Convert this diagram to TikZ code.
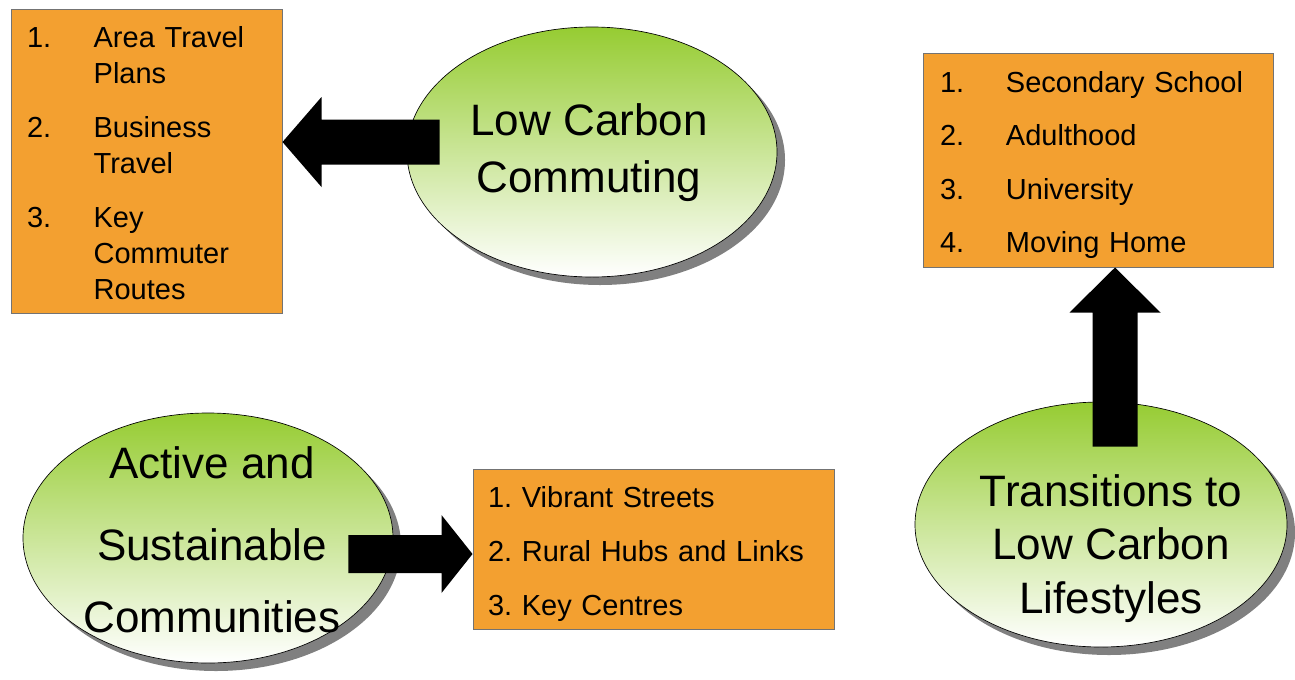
\documentclass[tikz,border=0pt]{standalone}
\usepackage{fontspec}
\setmainfont{Liberation Sans}
\usetikzlibrary{calc}
\usetikzlibrary{shapes.geometric}
\usetikzlibrary{shadows}
\frenchspacing

\definecolor{boxorange}{RGB}{243,160,48}
\definecolor{hubgreen}{RGB}{150,204,50}

\begin{document}
\begin{tikzpicture}[x=0.75pt, y=-0.75pt,
    hub/.style={ellipse, draw=black, line width=0.5pt, inner sep=0pt, top color=hubgreen, bottom color=white,
      drop shadow={shadow xshift=6pt, shadow yshift=-6pt, fill=black!50, opacity=1}},
    hubtext/.style={align=center, inner sep=0pt, font=\fontsize{33}{42.75}\selectfont},
    listbox/.style={rectangle, draw=black!55, line width=0.75pt, fill=boxorange, align=left, inner ysep=0pt,
      font=\frenchspacing\fontsize{21.75}{27}\selectfont},
    blockarrow/.style={fill=black}]
    \useasboundingbox (0,0) rectangle (1295,679);

    \node[hub, minimum width=277.5pt, minimum height=187.5pt] (lowCarbon) at (592,152) {};
    \node[hub, minimum width=277.5pt, minimum height=187.5pt] (activeComm) at (208,538) {};
    \node[hub, minimum width=279pt, minimum height=183.75pt] (transitions) at (1101,524.5) {};

    \node[hubtext] (lowCarbonText) at ($(lowCarbon)+(-3,1)$) {Low Carbon\\Commuting};
    \node[hubtext, font=\fontsize{33}{54}\selectfont] (activeText) at ($(activeComm)+(4,2)$) {Active and\\[7.5pt]Sustainable\\Communities};
    \node[hubtext, font=\fontsize{33}{40}\selectfont] (transText) at ($(transitions)+(10,24)$) {Transitions to\\Low Carbon\\Lifestyles};

    \node[listbox, text width=179.25pt, inner xsep=12pt, minimum height=228pt] (commList) at (146.5,161)
      {\rule{0pt}{19pt}\makebox[50pt][l]{1.}Area Travel\\\hspace*{50pt}Plans\\[13.5pt]%
       \makebox[50pt][l]{2.}Business\\\hspace*{50pt}Travel\\[13.5pt]%
       \makebox[50pt][l]{3.}Key\\\hspace*{50pt}Commuter\\\hspace*{50pt}Routes};
    \node[listbox, text width=237pt, inner xsep=12.75pt, minimum height=160.5pt, font=\frenchspacing\fontsize{21.75}{40}\selectfont] (lifeList) at (1098,160)
      {\rule{0pt}{23.5pt}\makebox[49.5pt][l]{1.}Secondary School\\\makebox[49.5pt][l]{2.}Adulthood\\%
       \makebox[49.5pt][l]{3.}University\\\makebox[49.5pt][l]{4.}Moving Home};
    \node[listbox, text width=248.25pt, inner xsep=11.25pt, minimum height=120pt, font=\frenchspacing\fontsize{21.75}{40.5}\selectfont] (placeList) at (653.5,549)
      {\rule{0pt}{23.5pt}1. Vibrant Streets\\2. Rural Hubs and Links\\3. Key Centres};

    \coordinate (lcTail) at ($(lowCarbon.west)+(33,-10)$);
    \coordinate (lcTip) at (commList.east |- lcTail);
    \fill[blockarrow] (lcTip) -- ($(lcTip)+(39,-45)$) -- ($(lcTip)+(39,-22.5)$) -- ($(lcTail)+(0,-22.5)$)
      -- ($(lcTail)+(0,22.5)$) -- ($(lcTip)+(39,22.5)$) -- ($(lcTip)+(39,45)$) -- cycle;

    \coordinate (trTail) at ($(transitions.north)+(14,45)$);
    \coordinate (trTip) at (trTail |- lifeList.south);
    \fill[blockarrow] (trTip) -- ($(trTip)+(-45.5,45)$) -- ($(trTip)+(-22.5,45)$) -- ($(trTail)+(-22.5,0)$)
      -- ($(trTail)+(22.5,0)$) -- ($(trTip)+(22.5,45)$) -- ($(trTip)+(45.5,45)$) -- cycle;

    \coordinate (acTail) at ($(activeComm.east)+(-45,16)$);
    \coordinate (acTip) at (placeList.west |- acTail);
    \fill[blockarrow] (acTip) -- ($(acTip)+(-31,-39)$) -- ($(acTip)+(-31,-19)$) -- ($(acTail)+(0,-19)$)
      -- ($(acTail)+(0,19)$) -- ($(acTip)+(-31,19)$) -- ($(acTip)+(-31,39)$) -- cycle;
\end{tikzpicture}
\end{document}
